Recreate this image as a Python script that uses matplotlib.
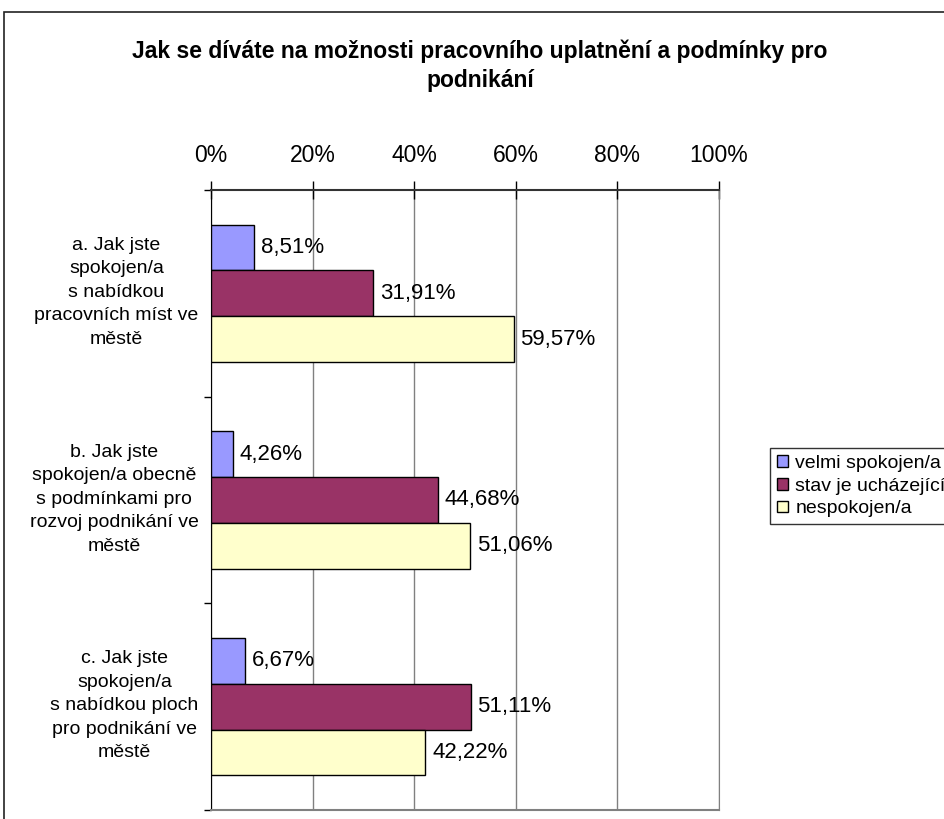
import matplotlib

matplotlib.use("Agg")

import matplotlib.pyplot as plt
import numpy as np
from matplotlib.patches import Rectangle

plt.rcParams["font.family"] = ["Liberation Sans", "DejaVu Sans"]

categories = [
    "a. Jak jste\nspokojen/a\ns nabídkou\npracovních míst ve\nměstě",
    "b. Jak jste\nspokojen/a obecně\ns podmínkami pro\nrozvoj podnikání ve\nměstě",
    "c. Jak jste\nspokojen/a\ns nabídkou ploch\npro podnikání ve\nměstě",
]
series_names = ["velmi spokojen/a", "stav je ucházející", "nespokojen/a"]
velmi = [8.51, 4.26, 6.67]
uchazejici = [31.91, 44.68, 51.11]
nespokojen = [59.57, 51.06, 42.22]
x_ticks = [0, 20, 40, 60, 80, 100]
title = "Jak se díváte na možnosti pracovního uplatnění a podmínky pro\npodnikání"

colors = ["#9999FF", "#993366", "#FFFFCC"]

W, H = 944, 819
fig = plt.figure(figsize=(W / 100, H / 100), dpi=100)
fig.patch.set_facecolor("white")

# outer chart border (runs off the right/bottom edge like the source)
fig.patches.append(Rectangle((4 / W, -0.1), 1.2, 1 - 12 / H + 0.1, transform=fig.transFigure,
                             fill=False, edgecolor="#222222", linewidth=1.2))

ax = fig.add_axes([211 / W, 9 / H, 508 / W, 620 / H])
y = np.arange(len(categories))
h = 0.222
for i, (vals, name) in enumerate(zip([velmi, uchazejici, nespokojen], series_names)):
    pos = y + (i - 1) * h
    ax.barh(pos, vals, height=h, color=colors[i], edgecolor="black", linewidth=1.0,
            label=name, zorder=3)
    for p, v in zip(pos, vals):
        ax.text(v + 1.3, p, f"{v:.2f}%".replace(".", ","), va="center", ha="left",
                fontsize=16, zorder=4)

ax.set_xlim(0, 100)
ax.set_ylim(2.5, -0.5)
ax.xaxis.tick_top()
ax.set_xticks(x_ticks)
ax.set_xticklabels([f"{t}%" for t in x_ticks], fontsize=16.5)
ax.tick_params(axis="x", length=13, width=1, pad=10, color="black", direction="inout")
ax.grid(axis="x", color="#808080", linewidth=1, zorder=0)

ax.set_yticks([-0.5, 0.5, 1.5, 2.5])
ax.set_yticklabels([])
ax.tick_params(axis="y", which="major", length=5, width=1, color="black")
ax.set_yticks(y - 0.03, minor=True)
ax.set_yticklabels(categories, minor=True, fontsize=14, linespacing=1.5,
                   multialignment="center")
ax.tick_params(axis="y", which="minor", length=0, pad=9)

ax.spines["top"].set_color("#333333")
ax.spines["top"].set_linewidth(1.5)
ax.spines["left"].set_color("black")
ax.spines["right"].set_color("#808080")
ax.spines["bottom"].set_color("#808080")
ax.spines["bottom"].set_linewidth(1.5)

fig.text(480 / W, 1 - 66 / H, title, ha="center", va="center", fontsize=16.5,
         fontweight="bold", linespacing=1.35)

leg = fig.legend(loc="upper left", bbox_to_anchor=(770 / W, 1 - 448 / H), fontsize=14,
                 frameon=True, fancybox=False, edgecolor="black", handlelength=0.55,
                 handleheight=0.55, handletextpad=0.4, labelspacing=0.3,
                 borderpad=0.35, borderaxespad=0)
leg.get_frame().set_linewidth(1.0)

fig.savefig("out.png", dpi=100, facecolor="white")
